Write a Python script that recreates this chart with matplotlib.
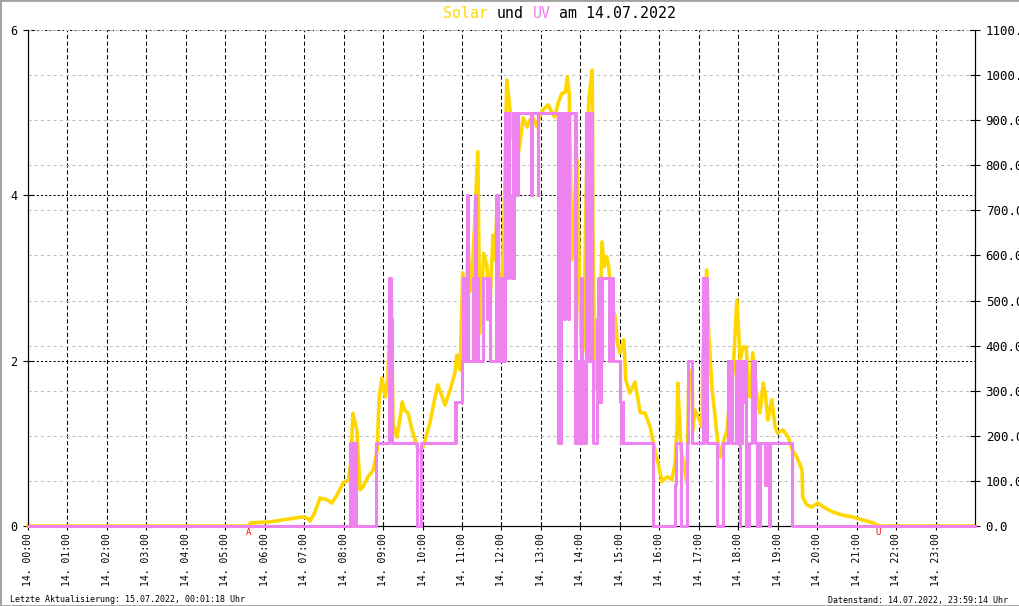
import matplotlib.pyplot as plt
from matplotlib.patches import Rectangle
from matplotlib.ticker import FormatStrFormatter
from matplotlib.transforms import blended_transform_factory

plt.rcParams['font.family'] = ['DejaVu Sans Mono']

datum = '14.07.2022'
aktualisiert = '15.07.2022, 00:01:18'
datenstand = '14.07.2022, 23:59:14'
sunrise = '05:36'
sunset = '21:32'

# Solarstrahlung in W/m2 (rechte Achse)
solar_time = ['00:00', '05:36', '05:38', '06:08', '06:34', '06:57', '07:04', '07:09', '07:16', '07:24',
              '07:35', '07:42', '07:50', '07:59', '08:07', '08:11', '08:14', '08:20', '08:25', '08:29',
              '08:37', '08:45', '08:51', '08:54', '08:58', '09:03', '09:07', '09:10', '09:12', '09:15',
              '09:21', '09:26', '09:29', '09:33', '09:38', '09:44', '09:52', '09:55', '10:01', '10:11',
              '10:19', '10:23', '10:30', '10:34', '10:42', '10:49', '10:52', '10:57', '11:01', '11:06',
              '11:09', '11:12', '11:15', '11:20', '11:24', '11:27', '11:33', '11:38', '11:42', '11:47',
              '11:50', '11:53', '11:58', '12:01', '12:05', '12:08', '12:13', '12:17', '12:24', '12:28',
              '12:33', '12:39', '12:43', '12:48', '12:54', '12:58', '13:03', '13:11', '13:17', '13:21',
              '13:26', '13:32', '13:37', '13:40', '13:43', '13:47', '13:52', '13:55', '13:59', '14:02',
              '14:05', '14:10', '14:13', '14:18', '14:19', '14:22', '14:25', '14:28', '14:33', '14:36',
              '14:40', '14:43', '14:48', '14:53', '14:56', '15:00', '15:06', '15:09', '15:15', '15:23',
              '15:31', '15:38', '15:46', '15:53', '15:58', '16:04', '16:09', '16:13', '16:19', '16:24',
              '16:27', '16:28', '16:33', '16:36', '16:42', '16:45', '16:50', '16:51', '16:54', '16:59',
              '17:05', '17:06', '17:12', '17:15', '17:20', '17:28', '17:32', '17:37', '17:43', '17:47',
              '17:52', '17:58', '18:03', '18:07', '18:12', '18:15', '18:18', '18:22', '18:28', '18:33',
              '18:38', '18:41', '18:45', '18:51', '18:56', '19:00', '19:08', '19:16', '19:22', '19:29',
              '19:37', '19:38', '19:44', '19:52', '20:01', '20:12', '20:24', '20:39', '20:54', '21:10',
              '21:25', '21:32', '21:33', '24:00']
solar_value = [0, 0, 7, 9, 15, 20, 18, 11, 30, 62,
               58, 51, 69, 95, 102, 140, 250, 213, 80, 86,
               109, 124, 169, 286, 328, 286, 330, 435, 540, 228,
               197, 242, 275, 257, 250, 213, 175, 162, 175, 228,
               286, 313, 286, 268, 302, 339, 379, 346, 561, 441,
               640, 520, 540, 700, 830, 428, 605, 575, 472, 645,
               590, 700, 428, 530, 761, 989, 923, 863, 812, 849,
               905, 885, 900, 905, 885, 907, 923, 934, 916, 907,
               938, 960, 962, 996, 960, 590, 739, 812, 517, 368,
               406, 849, 952, 1011, 663, 308, 302, 384, 630, 575,
               597, 575, 486, 464, 408, 384, 413, 324, 295, 319,
               251, 251, 220, 169, 140, 98, 106, 109, 102, 140,
               220, 317, 169, 146, 95, 346, 324, 213, 257, 242,
               220, 361, 568, 428, 308, 197, 153, 184, 213, 280,
               340, 501, 368, 397, 397, 317, 286, 384, 295, 251,
               317, 295, 235, 280, 220, 206, 213, 197, 169, 153,
               124, 64, 47, 42, 51, 40, 31, 24, 20, 13,
               7, 2, 0, 0]

# UV-Index (linke Achse), Stufen
uv_time = ['00:00',
           '08:10', '08:12', '08:13', '08:15', '08:16', '08:18', '08:49',
           '09:09', '09:10', '09:11', '09:12', '09:13', '09:52', '09:58',
           '10:49', '10:50', '10:51',
           '11:00', '11:01', '11:02', '11:03', '11:04', '11:05', '11:06', '11:08', '11:09',
           '11:17', '11:18', '11:20', '11:21', '11:24', '11:25',
           '11:32', '11:38', '11:39', '11:40', '11:41', '11:42', '11:52', '11:54',
           '11:59', '12:00', '12:01', '12:02',
           '12:05', '12:06', '12:07', '12:08', '12:09', '12:10', '12:11', '12:12',
           '12:16', '12:17', '12:18', '12:19', '12:20', '12:21', '12:22', '12:23', '12:24', '12:25',
           '12:45', '12:46', '12:55', '12:56',
           '13:26', '13:27', '13:28', '13:29', '13:30', '13:31',
           '13:33', '13:34', '13:35', '13:36', '13:38', '13:39', '13:41', '13:42',
           '13:52', '13:53', '13:54', '13:55', '13:56', '13:57', '13:58',
           '13:59', '14:00', '14:01', '14:02', '14:03', '14:04', '14:05', '14:06',
           '14:08', '14:09', '14:10', '14:11', '14:12', '14:13', '14:14', '14:16', '14:17', '14:18',
           '14:19',
           '14:25', '14:26', '14:27', '14:28', '14:29', '14:30', '14:31', '14:32', '14:33',
           '14:44', '14:45', '14:47', '14:48', '14:49',
           '15:00', '15:01', '15:02', '15:03', '15:04', '15:05',
           '15:50', '15:51', '16:24', '16:25', '16:33',
           '16:42', '16:43', '16:49',
           '17:06', '17:07', '17:08', '17:09', '17:10', '17:11', '17:12', '17:13',
           '17:28', '17:37',
           '17:44', '17:45', '17:46', '17:47', '17:48', '17:50',
           '17:56', '17:59', '18:00', '18:02', '18:03', '18:05', '18:06', '18:08', '18:09', '18:12', '18:16',
           '18:21', '18:23', '18:24', '18:25',
           '18:28', '18:29', '18:30', '18:31', '18:32', '18:33',
           '18:41', '18:42', '18:43', '18:44', '18:46', '18:47', '18:48',
           '19:22', '24:00']
uv_value = [0,
            1, 0, 1, 0, 1, 0, 1,
            3, 1.5, 3, 2.5, 1, 0, 1,
            1.5, 1, 1.5,
            2, 3, 2, 3, 2.5, 3, 2, 4, 2,
            3, 2, 4, 2, 3, 2,
            3, 2.5, 3, 2.5, 3, 2, 4, 2,
            3, 2, 3, 2,
            5, 4, 5, 4, 5, 3, 5, 4,
            3, 5, 3, 5, 4, 5, 4, 5, 4, 5,
            4, 5, 4, 5,
            1, 5, 1, 5, 1, 5,
            3, 5, 2.5, 5, 3, 5, 2.5, 5,
            1, 5, 1, 2, 1, 1.5, 1,
            1.5, 1, 3, 1, 2, 1, 1.5, 1,
            5, 2, 5, 3, 5, 2, 5, 2, 5, 2,
            1,
            2.5, 1.5, 3, 1.5, 2.5, 1.5, 3, 2, 3,
            2, 3, 2.5, 3, 2,
            1.5, 1, 1.5, 1, 1.5, 1,
            0.5, 0, 0.5, 1, 0,
            1, 2, 1,
            3, 1, 3, 2, 3, 2, 3, 1,
            0, 1,
            2, 1, 2, 1.5, 2, 1,
            2, 1, 2, 0, 2, 1, 2, 1.5, 2, 0, 1,
            2, 1.5, 2, 1,
            0, 1, 0.5, 1, 0, 1,
            0.5, 1, 0.5, 1, 0.5, 0, 1,
            0, 0]

hour_ticks = list(range(24))
hour_labels = ['14. %02d:00' % h for h in hour_ticks]


def hours(t):
    h, m = t.split(':')
    return int(h) + int(m) / 60.0


solar_x = [hours(t) for t in solar_time]
uv_x = [hours(t) for t in uv_time]

gold = '#FFD700'
violet = '#EE82EE'

fig = plt.figure(figsize=(10.2, 6.06), dpi=100)
ax = fig.add_axes([28 / 1020, 80 / 606, 947 / 1020, 496 / 606])

# untere Ebene: Gitter + linke Achse (UV)
ax.set_xlim(0, 24)
ax.set_ylim(0, 6)
ax.set_yticks([0, 2, 4, 6])
ax.set_xticks(hour_ticks)
ax.set_xticklabels(hour_labels, rotation=90, fontsize=7)
ax.tick_params(axis='x', direction='inout', length=6, pad=2.2, width=0.8)
ax.tick_params(axis='y', direction='inout', length=7, pad=4, width=0.8, labelsize=8.5)
ax.grid(axis='x', color='black', ls=(0, (4, 2.5)), lw=0.75)
ax.grid(axis='y', color='black', ls=(0, (2, 2)), lw=0.75)
ax.spines['top'].set_visible(False)
for s in ['left', 'right', 'bottom']:
    ax.spines[s].set_linewidth(0.8)

# Solar (rechte Achse)
ax2 = ax.twinx()
ax2.set_ylim(0, 1100)
ax2.set_yticks(range(0, 1101, 100))
ax2.yaxis.set_major_formatter(FormatStrFormatter('%.1f'))
ax2.tick_params(axis='y', direction='inout', length=7, pad=4.2, width=0.8, labelsize=9)
ax2.grid(axis='y', color='#c0c0c0', ls=(0, (3, 3)), lw=0.75)
ax2.spines['top'].set_visible(False)
ax2.spines['right'].set_linewidth(0.8)
ax2.plot(solar_x, solar_value, color=gold, lw=2.6, clip_on=False)

# UV oben drauf
ax3 = ax.twinx()
ax3.set_ylim(0, 6)
ax3.axis('off')
ax3.plot(uv_x, uv_value, color=violet, lw=2.2, drawstyle='steps-post', clip_on=False)

# Sonnenauf-/untergang
trans = blended_transform_factory(ax.transData, ax.transAxes)
ax.text(hours(sunrise), -0.004, 'A', transform=trans, color='red', fontsize=6.5,
        ha='center', va='top')
ax.text(hours(sunset), -0.004, 'U', transform=trans, color='red', fontsize=6.5,
        ha='center', va='top')

# Titel, Teile nebeneinander (Monospace)
ty = 1 - 13 / 606
tx = 443
cw = 0.602 * 10.7 * 100 / 72
title_parts = [('Solar', gold, 0), ('und', 'black', 6), ('UV', violet, 10), ('am ' + datum, 'black', 13)]
for txt, col, pos in title_parts:
    fig.text((tx + pos * cw) / 1020, ty, txt, fontsize=10.7, color=col, ha='left', va='center')

fig.text(10 / 1020, 1 - 600 / 606, 'Letzte Aktualisierung: ' + aktualisiert + ' Uhr',
         fontsize=6, ha='left', va='center')
fig.text(1008 / 1020, 1 - 600 / 606, 'Datenstand: ' + datenstand + ' Uhr',
         fontsize=6, ha='right', va='center')

fig.patches.append(Rectangle((0, 0), 1, 1, transform=fig.transFigure, fill=False,
                             ec='#a0a0a0', lw=2))

fig.savefig('out.png', dpi=100)
